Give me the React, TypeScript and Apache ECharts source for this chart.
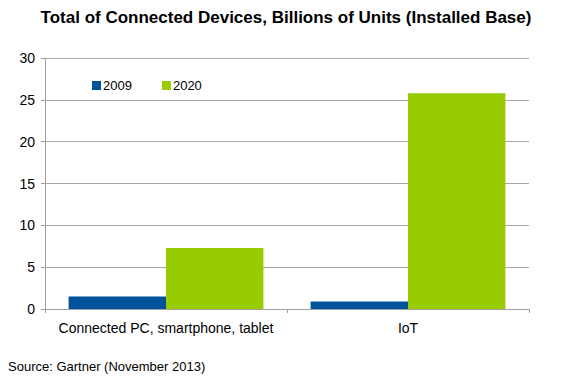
import React, { useEffect, useRef } from "react";
import * as echarts from "echarts";

const categories = ["Connected PC, smartphone, tablet", "IoT"];
const values2009 = [1.5, 0.9];
const values2020 = [7.3, 25.8];
const seriesNames = ["2009", "2020"];
const titleText = "Total of Connected Devices, Billions of Units (Installed Base)";
const sourceText = "Source: Gartner (November 2013)";

const FONT = "Liberation Sans, Arial, sans-serif";

export default function App() {
  const ref = useRef<HTMLDivElement>(null);
  useEffect(() => {
    if (!ref.current) return;
    const chart = echarts.init(ref.current, null, { renderer: "svg" });
    chart.setOption({
      animation: false,
      backgroundColor: "#ffffff",
      title: {
        text: titleText,
        left: 286,
        textAlign: "center",
        top: 9,
        padding: 0,
        textStyle: { fontFamily: FONT, fontSize: 17, fontWeight: "bold", color: "#000" },
      },
      graphic: [
        {
          type: "text",
          left: 8,
          top: 360,
          style: { text: sourceText, font: `13px ${FONT}`, fill: "#000" },
        },
      ],
      legend: {
        left: 92,
        top: 79,
        padding: 0,
        icon: "rect",
        itemWidth: 9,
        itemHeight: 9,
        itemGap: 30,
        textStyle: { fontFamily: FONT, fontSize: 13, color: "#000", padding: [0, 0, 0, -3] },
        data: seriesNames,
      },
      grid: { left: 45, right: 51, top: 58, bottom: 81, containLabel: false, outerBoundsMode: "none" },
      xAxis: {
        type: "category",
        data: categories,
        axisLine: { lineStyle: { color: "#a0a0a0" } },
        axisTick: { show: true, length: 4, lineStyle: { color: "#a0a0a0" } },
        axisLabel: { fontFamily: FONT, fontSize: 14, color: "#000", margin: 12, interval: 0 },
      },
      yAxis: {
        type: "value",
        min: 0,
        max: 30,
        interval: 5,
        axisLine: { show: true, lineStyle: { color: "#a0a0a0" } },
        axisTick: { show: true, length: 4, lineStyle: { color: "#a0a0a0" } },
        axisLabel: { fontFamily: FONT, fontSize: 14, color: "#000", margin: 10 },
        splitLine: { lineStyle: { color: "#a6a6a6" } },
      },
      series: [
        {
          name: seriesNames[0],
          type: "bar",
          data: values2009,
          barGap: "0%",
          barCategoryGap: "19.5%",
          itemStyle: { color: "#00539b" },
        },
        {
          name: seriesNames[1],
          type: "bar",
          data: values2020,
          barGap: "0%",
          barCategoryGap: "19.5%",
          itemStyle: { color: "#99cc00" },
        },
      ],
    });
    return () => chart.dispose();
  }, []);
  return <div ref={ref} style={{ width: 580, height: 390, margin: -8 }} />;
}
